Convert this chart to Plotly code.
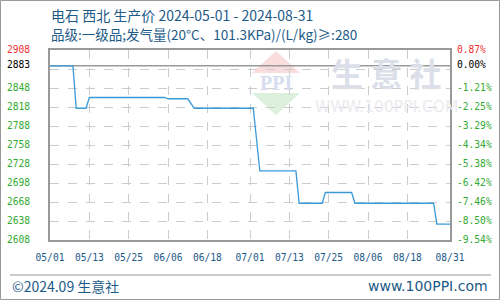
import plotly.graph_objects as go

# ---- data ----
dates = ["2024-05-01", "2024-05-08", "2024-05-09", "2024-05-12", "2024-05-13",
         "2024-06-05", "2024-06-06", "2024-06-12", "2024-06-14", "2024-07-02",
         "2024-07-04", "2024-07-15", "2024-07-16", "2024-07-23", "2024-07-24",
         "2024-08-01", "2024-08-02", "2024-08-26", "2024-08-27", "2024-08-31"]
prices = [2883, 2883, 2816, 2816, 2833,
          2833, 2831, 2831, 2816, 2816,
          2717, 2717, 2666, 2666, 2683,
          2683, 2666, 2666, 2633, 2633]

base_price = 2883
y_min, y_max = 2608, 2908
grid_vals = [2638, 2668, 2698, 2728, 2758, 2788, 2818, 2848, 2878]
left_labels = [2908, 2883, 2848, 2818, 2788, 2758, 2728, 2698, 2668, 2638, 2608]
right_labels = ["0.87%", "0.00%", "-1.21%", "-2.25%", "-3.29%", "-4.34%", "-5.38%",
                "-6.42%", "-7.46%", "-8.50%", "-9.54%"]
x_tick_dates = ["2024-05-01", "2024-05-13", "2024-05-25", "2024-06-06", "2024-06-18",
                "2024-07-01", "2024-07-13", "2024-07-25", "2024-08-06", "2024-08-18",
                "2024-08-31"]
x_tick_text = ["05/01", "05/13", "05/25", "06/06", "06/18", "07/01", "07/13",
               "07/25", "08/06", "08/18", "08/31"]

title1 = "电石 西北 生产价 2024-05-01 - 2024-08-31"
title2 = "品级:一级品;发气量(20°C、101.3KPa)/(L/kg)≥:280"

BLUE = "#1c5a88"
GREEN = "#33aa33"
RED = "#ee3333"
MONO = "DejaVu Sans Mono"
CJK = "Noto Sans CJK SC"

fig = go.Figure()
fig.add_trace(go.Scatter(x=dates, y=prices, mode="lines",
                         line=dict(color="#3a9ad9", width=1.3),
                         hoverinfo="skip", showlegend=False))

# pixel -> paper helpers (plot area 50..450 x, 50..240 y)
def px(x):
    return (x - 50) / 400.0

def py(y):
    return (240 - y) / 190.0

shapes = []
# watermark backdrop
shapes.append(dict(type="rect", xref="paper", yref="paper",
                   x0=px(317), x1=px(449), y0=py(96), y1=py(51),
                   fillcolor="rgba(255,255,255,0.75)", line=dict(width=0), layer="between"))
# logo: pink top triangle, green bottom triangle
shapes.append(dict(type="path", xref="paper", yref="paper",
                   path=f"M {px(252)},{py(73)} L {px(276)},{py(51)} L {px(300)},{py(73)} Z",
                   fillcolor="#f9dcdc", line=dict(width=0), layer="between"))
shapes.append(dict(type="path", xref="paper", yref="paper",
                   path=f"M {px(252)},{py(93)} L {px(276)},{py(115)} L {px(300)},{py(93)} Z",
                   fillcolor="#dcf0dc", line=dict(width=0), layer="between"))
# base (0%) line
shapes.append(dict(type="line", xref="paper", yref="y", x0=0, x1=1,
                   y0=base_price, y1=base_price, line=dict(color="#999999", width=1.5),
                   layer="between"))
# footer separator
shapes.append(dict(type="line", xref="paper", yref="paper", x0=px(10), x1=px(491),
                   y0=py(275), y1=py(275), line=dict(color="#999999", width=1)))
# outer border
shapes.append(dict(type="rect", xref="paper", yref="paper", x0=px(0.5), x1=px(499.5),
                   y0=py(299.5), y1=py(0.5), line=dict(color="#999999", width=1)))

annotations = []
annotations.append(dict(text="PPI", xref="paper", yref="paper", x=px(276), y=py(83),
                        showarrow=False, font=dict(family="Liberation Serif", size=20,
                                                   color="#d6ddef", weight=700),
                        xanchor="center", yanchor="middle"))
annotations.append(dict(text="生 意 社", xref="paper", yref="paper", x=px(386), y=py(72),
                        showarrow=False,
                        font=dict(family=CJK, size=32, color="#dcdfe9", weight=700),
                        xanchor="center", yanchor="middle"))
annotations.append(dict(text="WWW.100PPI.COM", xref="paper", yref="paper", x=px(386),
                        y=py(107), showarrow=False,
                        font=dict(family="DejaVu Sans", size=15.5, color="#ebebef"),
                        xanchor="center", yanchor="middle"))

for v, rtxt in zip(left_labels, right_labels):
    if v == y_max:
        col = RED
    elif v == base_price:
        col = "#000000"
    else:
        col = GREEN
    annotations.append(dict(text=str(v), xref="paper", yref="y", x=px(5), y=v,
                            xanchor="left", yanchor="middle", yshift=1, showarrow=False,
                            font=dict(family=MONO, size=9.6, color=col)))
    annotations.append(dict(text=rtxt, xref="paper", yref="y", x=px(455), y=v,
                            xanchor="left", yanchor="middle", yshift=1, showarrow=False,
                            font=dict(family=MONO, size=9.6, color=col)))

annotations.append(dict(text=title1, xref="paper", yref="paper", x=px(49), y=py(15),
                        xanchor="left", yanchor="middle", showarrow=False,
                        font=dict(family=CJK, size=14, color=BLUE)))
annotations.append(dict(text=title2, xref="paper", yref="paper", x=px(49), y=py(34),
                        xanchor="left", yanchor="middle", showarrow=False,
                        font=dict(family=CJK, size=13.5, color=BLUE)))
annotations.append(dict(text="©2024.09 生意社", xref="paper", yref="paper", x=px(10),
                        y=py(286), xanchor="left", yanchor="middle", showarrow=False,
                        font=dict(family=CJK, size=14, color=BLUE)))
annotations.append(dict(text="www.100PPI.com", xref="paper", yref="paper", x=px(490),
                        y=py(286), xanchor="right", yanchor="middle", showarrow=False,
                        font=dict(family="DejaVu Sans", size=14, color=BLUE)))

fig.update_layout(
    width=500, height=300,
    margin=dict(l=50, r=50, t=50, b=60),
    paper_bgcolor="white", plot_bgcolor="white",
    shapes=shapes, annotations=annotations,
    xaxis=dict(type="date", range=["2024-05-01", "2024-08-31"],
               tickvals=x_tick_dates, ticktext=x_tick_text,
               tickfont=dict(family=MONO, size=9.6, color=BLUE),
               ticks="", ticklabelstandoff=8,
               showgrid=True, gridcolor="#cccccc", griddash="dash", gridwidth=1,
               showline=True, linecolor="#999999", linewidth=1.5, mirror=True,
               zeroline=False, fixedrange=True),
    yaxis=dict(range=[y_min, y_max], tickvals=grid_vals, showticklabels=False,
               ticks="", showgrid=True, gridcolor="#cccccc", griddash="dash", gridwidth=1,
               showline=True, linecolor="#999999", linewidth=1.5, mirror=True,
               zeroline=False, fixedrange=True),
)

fig.write_html("out.html")
